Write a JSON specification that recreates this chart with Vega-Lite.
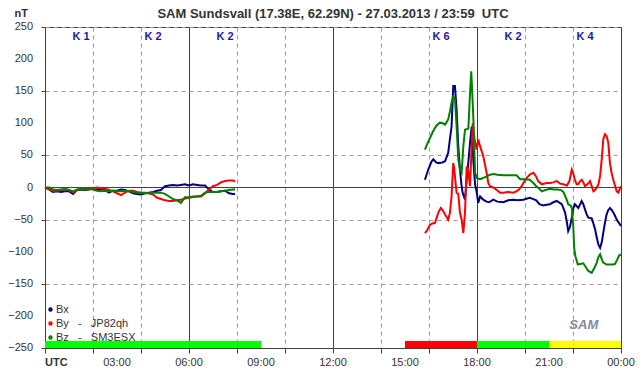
{
  "$schema": "https://vega.github.io/schema/vega-lite/v6.json",
  "width": 576,
  "height": 321,
  "autosize": {"type": "none"},
  "padding": {"left": 45, "top": 27, "right": 21, "bottom": 28},
  "background": "white",
  "config": {
    "font": "Liberation Sans",
    "view": {"stroke": "#404040", "strokeWidth": 1},
    "axis": {"labelFont": "Liberation Sans", "labelColor": "#333333", "labelFontSize": 11, "domainColor": "#404040", "tickColor": "#404040"},
    "legend": {"labelFont": "Liberation Sans"}
  },
  "title": {
    "text": "SAM Sundsvall (17.38E, 62.29N) - 27.03.2013 / 23:59\u00a0\u00a0UTC",
    "anchor": "middle",
    "fontSize": 13,
    "fontWeight": "bold",
    "color": "#333333",
    "font": "Liberation Sans",
    "baseline": "bottom",
    "offset": 0,
    "dy": 27
  },
  "data": {
    "values": [
      {"s":"Bx","g":1,"t":0,"v":0},{"s":"Bx","g":1,"t":0.17,"v":-3},{"s":"Bx","g":1,"t":0.33,"v":-7},{"s":"Bx","g":1,"t":0.5,"v":-6},{"s":"Bx","g":1,"t":0.67,"v":-7},{"s":"Bx","g":1,"t":0.83,"v":-6},{"s":"Bx","g":1,"t":1,"v":-6},{"s":"Bx","g":1,"t":1.17,"v":-10},{"s":"Bx","g":1,"t":1.33,"v":-4},{"s":"Bx","g":1,"t":1.5,"v":-3},
      {"s":"Bx","g":1,"t":1.67,"v":-4},{"s":"Bx","g":1,"t":1.83,"v":-3},{"s":"Bx","g":1,"t":2,"v":-2},{"s":"Bx","g":1,"t":2.17,"v":-3},{"s":"Bx","g":1,"t":2.33,"v":-2},{"s":"Bx","g":1,"t":2.5,"v":-4},{"s":"Bx","g":1,"t":2.67,"v":-8},{"s":"Bx","g":1,"t":2.83,"v":-5},{"s":"Bx","g":1,"t":3,"v":-5},{"s":"Bx","g":1,"t":3.17,"v":-3},
      {"s":"Bx","g":1,"t":3.33,"v":-4},{"s":"Bx","g":1,"t":3.5,"v":-6},{"s":"Bx","g":1,"t":3.67,"v":-9},{"s":"Bx","g":1,"t":3.83,"v":-10},{"s":"Bx","g":1,"t":4,"v":-11},{"s":"Bx","g":1,"t":4.17,"v":-9},{"s":"Bx","g":1,"t":4.33,"v":-8},{"s":"Bx","g":1,"t":4.5,"v":-7},{"s":"Bx","g":1,"t":4.67,"v":-5},{"s":"Bx","g":1,"t":4.83,"v":-4},
      {"s":"Bx","g":1,"t":5,"v":2},{"s":"Bx","g":1,"t":5.17,"v":3},{"s":"Bx","g":1,"t":5.33,"v":4},{"s":"Bx","g":1,"t":5.5,"v":3},{"s":"Bx","g":1,"t":5.67,"v":4},{"s":"Bx","g":1,"t":5.83,"v":5},{"s":"Bx","g":1,"t":6,"v":3},{"s":"Bx","g":1,"t":6.17,"v":5},{"s":"Bx","g":1,"t":6.33,"v":4},{"s":"Bx","g":1,"t":6.5,"v":3},
      {"s":"Bx","g":1,"t":6.67,"v":3},{"s":"Bx","g":1,"t":6.83,"v":-3},{"s":"Bx","g":1,"t":7,"v":-7},{"s":"Bx","g":1,"t":7.17,"v":-7},{"s":"Bx","g":1,"t":7.33,"v":-6},{"s":"Bx","g":1,"t":7.5,"v":-5},{"s":"Bx","g":1,"t":7.67,"v":-9},{"s":"Bx","g":1,"t":7.83,"v":-10},{"s":"Bx","g":1,"t":7.92,"v":-10},

      {"s":"By","g":1,"t":0,"v":0},{"s":"By","g":1,"t":0.17,"v":-2},{"s":"By","g":1,"t":0.33,"v":-5},{"s":"By","g":1,"t":0.5,"v":-5},{"s":"By","g":1,"t":0.67,"v":-4},{"s":"By","g":1,"t":0.83,"v":-3},{"s":"By","g":1,"t":1,"v":-4},{"s":"By","g":1,"t":1.17,"v":-8},{"s":"By","g":1,"t":1.33,"v":-4},{"s":"By","g":1,"t":1.5,"v":-2},
      {"s":"By","g":1,"t":1.67,"v":-3},{"s":"By","g":1,"t":1.83,"v":-2},{"s":"By","g":1,"t":2,"v":-1},{"s":"By","g":1,"t":2.17,"v":0},{"s":"By","g":1,"t":2.33,"v":-1},{"s":"By","g":1,"t":2.5,"v":-2},{"s":"By","g":1,"t":2.67,"v":-4},{"s":"By","g":1,"t":2.83,"v":-6},{"s":"By","g":1,"t":3,"v":-9},{"s":"By","g":1,"t":3.17,"v":-12},
      {"s":"By","g":1,"t":3.33,"v":-8},{"s":"By","g":1,"t":3.5,"v":-5},{"s":"By","g":1,"t":3.67,"v":-5},{"s":"By","g":1,"t":3.83,"v":-7},{"s":"By","g":1,"t":4,"v":-8},{"s":"By","g":1,"t":4.17,"v":-8},{"s":"By","g":1,"t":4.33,"v":-9},{"s":"By","g":1,"t":4.5,"v":-11},{"s":"By","g":1,"t":4.67,"v":-16},{"s":"By","g":1,"t":4.83,"v":-18},
      {"s":"By","g":1,"t":5,"v":-20},{"s":"By","g":1,"t":5.17,"v":-21},{"s":"By","g":1,"t":5.33,"v":-21},{"s":"By","g":1,"t":5.5,"v":-20},{"s":"By","g":1,"t":5.67,"v":-19},{"s":"By","g":1,"t":5.83,"v":-17},{"s":"By","g":1,"t":6,"v":-16},{"s":"By","g":1,"t":6.17,"v":-15},{"s":"By","g":1,"t":6.33,"v":-14},{"s":"By","g":1,"t":6.5,"v":-14},
      {"s":"By","g":1,"t":6.67,"v":-9},{"s":"By","g":1,"t":6.83,"v":-3},{"s":"By","g":1,"t":7,"v":2},{"s":"By","g":1,"t":7.17,"v":4},{"s":"By","g":1,"t":7.33,"v":8},{"s":"By","g":1,"t":7.5,"v":10},{"s":"By","g":1,"t":7.67,"v":11},{"s":"By","g":1,"t":7.83,"v":11},{"s":"By","g":1,"t":7.92,"v":9},

      {"s":"Bz","g":1,"t":0,"v":0},{"s":"Bz","g":1,"t":0.17,"v":0},{"s":"Bz","g":1,"t":0.33,"v":-3},{"s":"Bz","g":1,"t":0.5,"v":-4},{"s":"Bz","g":1,"t":0.67,"v":-3},{"s":"Bz","g":1,"t":0.83,"v":-2},{"s":"Bz","g":1,"t":1,"v":-4},{"s":"Bz","g":1,"t":1.17,"v":-6},{"s":"Bz","g":1,"t":1.33,"v":-3},{"s":"Bz","g":1,"t":1.5,"v":-2},
      {"s":"Bz","g":1,"t":1.67,"v":-2},{"s":"Bz","g":1,"t":1.83,"v":-2},{"s":"Bz","g":1,"t":2,"v":-3},{"s":"Bz","g":1,"t":2.17,"v":-5},{"s":"Bz","g":1,"t":2.33,"v":-6},{"s":"Bz","g":1,"t":2.5,"v":-5},{"s":"Bz","g":1,"t":2.67,"v":-6},{"s":"Bz","g":1,"t":2.83,"v":-5},{"s":"Bz","g":1,"t":3,"v":-6},{"s":"Bz","g":1,"t":3.17,"v":-6},
      {"s":"Bz","g":1,"t":3.33,"v":-5},{"s":"Bz","g":1,"t":3.5,"v":-6},{"s":"Bz","g":1,"t":3.67,"v":-7},{"s":"Bz","g":1,"t":3.83,"v":-8},{"s":"Bz","g":1,"t":4,"v":-8},{"s":"Bz","g":1,"t":4.17,"v":-9},{"s":"Bz","g":1,"t":4.33,"v":-9},{"s":"Bz","g":1,"t":4.5,"v":-8},{"s":"Bz","g":1,"t":4.67,"v":-8},{"s":"Bz","g":1,"t":4.83,"v":-8},
      {"s":"Bz","g":1,"t":5,"v":-10},{"s":"Bz","g":1,"t":5.17,"v":-14},{"s":"Bz","g":1,"t":5.33,"v":-18},{"s":"Bz","g":1,"t":5.5,"v":-20},{"s":"Bz","g":1,"t":5.67,"v":-24},{"s":"Bz","g":1,"t":5.83,"v":-15},{"s":"Bz","g":1,"t":6,"v":-15},{"s":"Bz","g":1,"t":6.17,"v":-14},{"s":"Bz","g":1,"t":6.33,"v":-14},{"s":"Bz","g":1,"t":6.5,"v":-13},
      {"s":"Bz","g":1,"t":6.67,"v":-8},{"s":"Bz","g":1,"t":6.83,"v":-7},{"s":"Bz","g":1,"t":7,"v":-7},{"s":"Bz","g":1,"t":7.17,"v":-7},{"s":"Bz","g":1,"t":7.33,"v":-6},{"s":"Bz","g":1,"t":7.5,"v":-5},{"s":"Bz","g":1,"t":7.67,"v":-4},{"s":"Bz","g":1,"t":7.83,"v":-3},{"s":"Bz","g":1,"t":7.92,"v":-3},

      {"s":"Bx","g":2,"t":15.83,"v":12},{"s":"Bx","g":2,"t":15.97,"v":28},{"s":"Bx","g":2,"t":16.1,"v":40},{"s":"Bx","g":2,"t":16.18,"v":44},{"s":"Bx","g":2,"t":16.3,"v":39},{"s":"Bx","g":2,"t":16.39,"v":38},{"s":"Bx","g":2,"t":16.55,"v":39},{"s":"Bx","g":2,"t":16.67,"v":41},{"s":"Bx","g":2,"t":16.8,"v":54},{"s":"Bx","g":2,"t":16.87,"v":75},
      {"s":"Bx","g":2,"t":16.94,"v":95},{"s":"Bx","g":2,"t":17.01,"v":158},{"s":"Bx","g":2,"t":17.08,"v":158},{"s":"Bx","g":2,"t":17.15,"v":121},{"s":"Bx","g":2,"t":17.22,"v":64},{"s":"Bx","g":2,"t":17.29,"v":28},{"s":"Bx","g":2,"t":17.35,"v":5},{"s":"Bx","g":2,"t":17.4,"v":-8},{"s":"Bx","g":2,"t":17.5,"v":-19},{"s":"Bx","g":2,"t":17.57,"v":12},
      {"s":"Bx","g":2,"t":17.64,"v":40},{"s":"Bx","g":2,"t":17.71,"v":70},{"s":"Bx","g":2,"t":17.78,"v":95},{"s":"Bx","g":2,"t":17.85,"v":40},{"s":"Bx","g":2,"t":17.92,"v":5},{"s":"Bx","g":2,"t":17.99,"v":-8},{"s":"Bx","g":2,"t":18.05,"v":-24},{"s":"Bx","g":2,"t":18.13,"v":-14},{"s":"Bx","g":2,"t":18.26,"v":-19},{"s":"Bx","g":2,"t":18.4,"v":-22},
      {"s":"Bx","g":2,"t":18.5,"v":-23},{"s":"Bx","g":2,"t":18.68,"v":-19},{"s":"Bx","g":2,"t":18.85,"v":-22},{"s":"Bx","g":2,"t":19.1,"v":-23},{"s":"Bx","g":2,"t":19.3,"v":-20},{"s":"Bx","g":2,"t":19.51,"v":-19},{"s":"Bx","g":2,"t":19.7,"v":-20},{"s":"Bx","g":2,"t":19.93,"v":-19},{"s":"Bx","g":2,"t":20.2,"v":-16},{"s":"Bx","g":2,"t":20.35,"v":-18},
      {"s":"Bx","g":2,"t":20.47,"v":-20},{"s":"Bx","g":2,"t":20.6,"v":-26},{"s":"Bx","g":2,"t":20.76,"v":-28},{"s":"Bx","g":2,"t":20.9,"v":-27},{"s":"Bx","g":2,"t":21.04,"v":-26},{"s":"Bx","g":2,"t":21.18,"v":-23},{"s":"Bx","g":2,"t":21.32,"v":-21},{"s":"Bx","g":2,"t":21.45,"v":-24},{"s":"Bx","g":2,"t":21.53,"v":-26},{"s":"Bx","g":2,"t":21.6,"v":-32},
      {"s":"Bx","g":2,"t":21.67,"v":-39},{"s":"Bx","g":2,"t":21.75,"v":-55},{"s":"Bx","g":2,"t":21.8,"v":-68},{"s":"Bx","g":2,"t":21.87,"v":-62},{"s":"Bx","g":2,"t":21.95,"v":-47},{"s":"Bx","g":2,"t":22.01,"v":-33},{"s":"Bx","g":2,"t":22.08,"v":-26},{"s":"Bx","g":2,"t":22.15,"v":-29},{"s":"Bx","g":2,"t":22.22,"v":-32},{"s":"Bx","g":2,"t":22.3,"v":-26},
      {"s":"Bx","g":2,"t":22.36,"v":-21},{"s":"Bx","g":2,"t":22.43,"v":-26},{"s":"Bx","g":2,"t":22.5,"v":-34},{"s":"Bx","g":2,"t":22.57,"v":-42},{"s":"Bx","g":2,"t":22.64,"v":-47},{"s":"Bx","g":2,"t":22.78,"v":-48},{"s":"Bx","g":2,"t":22.85,"v":-56},{"s":"Bx","g":2,"t":22.92,"v":-65},{"s":"Bx","g":2,"t":22.99,"v":-78},{"s":"Bx","g":2,"t":23.06,"v":-89},
      {"s":"Bx","g":2,"t":23.13,"v":-94},{"s":"Bx","g":2,"t":23.2,"v":-85},{"s":"Bx","g":2,"t":23.26,"v":-71},{"s":"Bx","g":2,"t":23.33,"v":-55},{"s":"Bx","g":2,"t":23.4,"v":-42},{"s":"Bx","g":2,"t":23.47,"v":-35},{"s":"Bx","g":2,"t":23.54,"v":-32},{"s":"Bx","g":2,"t":23.61,"v":-35},{"s":"Bx","g":2,"t":23.68,"v":-39},{"s":"Bx","g":2,"t":23.75,"v":-44},
      {"s":"Bx","g":2,"t":23.82,"v":-50},{"s":"Bx","g":2,"t":23.89,"v":-54},{"s":"Bx","g":2,"t":24,"v":-60},

      {"s":"By","g":2,"t":15.83,"v":-71},{"s":"By","g":2,"t":15.9,"v":-68},{"s":"By","g":2,"t":16.04,"v":-58},{"s":"By","g":2,"t":16.15,"v":-56},{"s":"By","g":2,"t":16.25,"v":-55},{"s":"By","g":2,"t":16.39,"v":-39},{"s":"By","g":2,"t":16.49,"v":-32},{"s":"By","g":2,"t":16.58,"v":-36},{"s":"By","g":2,"t":16.67,"v":-42},{"s":"By","g":2,"t":16.8,"v":-50},
      {"s":"By","g":2,"t":16.87,"v":-40},{"s":"By","g":2,"t":16.94,"v":-14},{"s":"By","g":2,"t":17.01,"v":38},{"s":"By","g":2,"t":17.05,"v":30},{"s":"By","g":2,"t":17.1,"v":10},{"s":"By","g":2,"t":17.15,"v":-8},{"s":"By","g":2,"t":17.22,"v":-10},{"s":"By","g":2,"t":17.29,"v":-39},{"s":"By","g":2,"t":17.36,"v":-50},{"s":"By","g":2,"t":17.43,"v":-71},
      {"s":"By","g":2,"t":17.5,"v":-39},{"s":"By","g":2,"t":17.57,"v":33},{"s":"By","g":2,"t":17.64,"v":25},{"s":"By","g":2,"t":17.71,"v":2},{"s":"By","g":2,"t":17.75,"v":40},{"s":"By","g":2,"t":17.82,"v":100},{"s":"By","g":2,"t":17.9,"v":75},{"s":"By","g":2,"t":17.99,"v":59},{"s":"By","g":2,"t":18.05,"v":75},{"s":"By","g":2,"t":18.13,"v":64},
      {"s":"By","g":2,"t":18.26,"v":49},{"s":"By","g":2,"t":18.4,"v":23},{"s":"By","g":2,"t":18.47,"v":7},{"s":"By","g":2,"t":18.54,"v":2},{"s":"By","g":2,"t":18.68,"v":0},{"s":"By","g":2,"t":18.82,"v":-4},{"s":"By","g":2,"t":18.96,"v":-8},{"s":"By","g":2,"t":19.1,"v":-8},{"s":"By","g":2,"t":19.3,"v":-7},{"s":"By","g":2,"t":19.5,"v":-8},
      {"s":"By","g":2,"t":19.65,"v":-6},{"s":"By","g":2,"t":19.75,"v":-3},{"s":"By","g":2,"t":19.86,"v":2},{"s":"By","g":2,"t":19.95,"v":8},{"s":"By","g":2,"t":20.07,"v":15},{"s":"By","g":2,"t":20.2,"v":20},{"s":"By","g":2,"t":20.35,"v":23},{"s":"By","g":2,"t":20.45,"v":18},{"s":"By","g":2,"t":20.55,"v":10},{"s":"By","g":2,"t":20.7,"v":5},
      {"s":"By","g":2,"t":20.9,"v":7},{"s":"By","g":2,"t":21.04,"v":7},{"s":"By","g":2,"t":21.18,"v":8},{"s":"By","g":2,"t":21.32,"v":10},{"s":"By","g":2,"t":21.46,"v":6},{"s":"By","g":2,"t":21.6,"v":5},{"s":"By","g":2,"t":21.75,"v":3},{"s":"By","g":2,"t":21.85,"v":10},{"s":"By","g":2,"t":21.95,"v":28},{"s":"By","g":2,"t":22.01,"v":22},
      {"s":"By","g":2,"t":22.08,"v":12},{"s":"By","g":2,"t":22.15,"v":5},{"s":"By","g":2,"t":22.22,"v":5},{"s":"By","g":2,"t":22.3,"v":10},{"s":"By","g":2,"t":22.36,"v":12},{"s":"By","g":2,"t":22.43,"v":8},{"s":"By","g":2,"t":22.5,"v":2},{"s":"By","g":2,"t":22.6,"v":5},{"s":"By","g":2,"t":22.71,"v":10},{"s":"By","g":2,"t":22.78,"v":2},
      {"s":"By","g":2,"t":22.85,"v":-6},{"s":"By","g":2,"t":22.92,"v":-4},{"s":"By","g":2,"t":22.99,"v":0},{"s":"By","g":2,"t":23.06,"v":5},{"s":"By","g":2,"t":23.13,"v":18},{"s":"By","g":2,"t":23.2,"v":45},{"s":"By","g":2,"t":23.26,"v":75},{"s":"By","g":2,"t":23.33,"v":83},{"s":"By","g":2,"t":23.4,"v":80},{"s":"By","g":2,"t":23.47,"v":70},
      {"s":"By","g":2,"t":23.54,"v":38},{"s":"By","g":2,"t":23.61,"v":22},{"s":"By","g":2,"t":23.68,"v":12},{"s":"By","g":2,"t":23.75,"v":3},{"s":"By","g":2,"t":23.82,"v":-6},{"s":"By","g":2,"t":23.89,"v":-8},{"s":"By","g":2,"t":23.95,"v":-2},{"s":"By","g":2,"t":24,"v":2},

      {"s":"Bz","g":2,"t":15.83,"v":59},{"s":"Bz","g":2,"t":15.95,"v":70},{"s":"Bz","g":2,"t":16.04,"v":77},{"s":"Bz","g":2,"t":16.15,"v":86},{"s":"Bz","g":2,"t":16.25,"v":93},{"s":"Bz","g":2,"t":16.35,"v":98},{"s":"Bz","g":2,"t":16.46,"v":101},{"s":"Bz","g":2,"t":16.57,"v":100},{"s":"Bz","g":2,"t":16.67,"v":98},{"s":"Bz","g":2,"t":16.8,"v":106},
      {"s":"Bz","g":2,"t":16.87,"v":118},{"s":"Bz","g":2,"t":16.94,"v":132},{"s":"Bz","g":2,"t":17.01,"v":142},{"s":"Bz","g":2,"t":17.08,"v":138},{"s":"Bz","g":2,"t":17.15,"v":95},{"s":"Bz","g":2,"t":17.22,"v":44},{"s":"Bz","g":2,"t":17.29,"v":28},{"s":"Bz","g":2,"t":17.36,"v":23},{"s":"Bz","g":2,"t":17.43,"v":64},{"s":"Bz","g":2,"t":17.5,"v":90},
      {"s":"Bz","g":2,"t":17.64,"v":92},{"s":"Bz","g":2,"t":17.71,"v":147},{"s":"Bz","g":2,"t":17.76,"v":181},{"s":"Bz","g":2,"t":17.8,"v":150},{"s":"Bz","g":2,"t":17.85,"v":106},{"s":"Bz","g":2,"t":17.92,"v":23},{"s":"Bz","g":2,"t":17.99,"v":15},{"s":"Bz","g":2,"t":18.13,"v":13},{"s":"Bz","g":2,"t":18.26,"v":15},{"s":"Bz","g":2,"t":18.4,"v":17},
      {"s":"Bz","g":2,"t":18.54,"v":20},{"s":"Bz","g":2,"t":18.7,"v":21},{"s":"Bz","g":2,"t":18.85,"v":20},{"s":"Bz","g":2,"t":19.1,"v":19},{"s":"Bz","g":2,"t":19.3,"v":19},{"s":"Bz","g":2,"t":19.5,"v":19},{"s":"Bz","g":2,"t":19.65,"v":19},{"s":"Bz","g":2,"t":19.8,"v":13},{"s":"Bz","g":2,"t":20,"v":13},{"s":"Bz","g":2,"t":20.2,"v":12},
      {"s":"Bz","g":2,"t":20.35,"v":7},{"s":"Bz","g":2,"t":20.47,"v":2},{"s":"Bz","g":2,"t":20.6,"v":-2},{"s":"Bz","g":2,"t":20.7,"v":-6},{"s":"Bz","g":2,"t":20.85,"v":-4},{"s":"Bz","g":2,"t":21.04,"v":-2},{"s":"Bz","g":2,"t":21.2,"v":-3},{"s":"Bz","g":2,"t":21.35,"v":-3},{"s":"Bz","g":2,"t":21.5,"v":-4},{"s":"Bz","g":2,"t":21.6,"v":-7},
      {"s":"Bz","g":2,"t":21.67,"v":-13},{"s":"Bz","g":2,"t":21.75,"v":-20},{"s":"Bz","g":2,"t":21.8,"v":-26},{"s":"Bz","g":2,"t":21.9,"v":-28},{"s":"Bz","g":2,"t":21.95,"v":-32},{"s":"Bz","g":2,"t":22.01,"v":-60},{"s":"Bz","g":2,"t":22.05,"v":-95},{"s":"Bz","g":2,"t":22.1,"v":-107},{"s":"Bz","g":2,"t":22.2,"v":-120},{"s":"Bz","g":2,"t":22.3,"v":-119},
      {"s":"Bz","g":2,"t":22.43,"v":-118},{"s":"Bz","g":2,"t":22.55,"v":-125},{"s":"Bz","g":2,"t":22.64,"v":-130},{"s":"Bz","g":2,"t":22.78,"v":-133},{"s":"Bz","g":2,"t":22.92,"v":-123},{"s":"Bz","g":2,"t":22.99,"v":-117},{"s":"Bz","g":2,"t":23.06,"v":-108},{"s":"Bz","g":2,"t":23.13,"v":-104},{"s":"Bz","g":2,"t":23.2,"v":-112},{"s":"Bz","g":2,"t":23.26,"v":-117},
      {"s":"Bz","g":2,"t":23.4,"v":-120},{"s":"Bz","g":2,"t":23.54,"v":-120},{"s":"Bz","g":2,"t":23.68,"v":-120},{"s":"Bz","g":2,"t":23.75,"v":-119},{"s":"Bz","g":2,"t":23.85,"v":-112},{"s":"Bz","g":2,"t":23.92,"v":-106},{"s":"Bz","g":2,"t":24,"v":-104}
    ]
  },
  "layer": [
    {
      "data": {"values": [
        {"start": 0, "end": 3, "k": "K 1", "level": "low"},
        {"start": 3, "end": 6, "k": "K 2", "level": "low"},
        {"start": 6, "end": 9, "k": "K 2", "level": "low"},
        {"start": 15, "end": 18, "k": "K 6", "level": "storm"},
        {"start": 18, "end": 21, "k": "K 2", "level": "low"},
        {"start": 21, "end": 24, "k": "K 4", "level": "active"}
      ]},
      "mark": {"type": "rect"},
      "encoding": {
        "x": {
          "field": "start", "type": "quantitative",
          "scale": {"domain": [0, 24], "nice": false},
          "axis": {
            "title": null,
            "values": [0,1,2,3,4,5,6,7,8,9,10,11,12,13,14,15,16,17,18,19,20,21,22,23,24],
            "labels": false,
            "tickSize": 5,
            "grid": true,
            "gridColor": {"condition": {"test": "datum.value % 3 == 0", "value": "#404040"}, "value": "#999999"},
            "gridDash": {"condition": {"test": "datum.value % 3 == 0", "value": []}, "value": [4, 4]}
          }
        },
        "x2": {"field": "end"},
        "y": {
          "datum": -250,
          "type": "quantitative",
          "scale": {"domain": [-250, 250], "nice": false},
          "axis": {
            "title": "nT",
            "titleAngle": 0,
            "titleX": -31,
            "titleY": -14,
            "titleAlign": "left",
            "titleBaseline": "middle",
            "titleFontWeight": "bold",
            "titleFontSize": 11,
            "titleColor": "#333333",
            "titleFont": "Liberation Sans",
            "values": [-250,-200,-150,-100,-50,0,50,100,150,200,250],
            "labels": false,
            "tickSize": 4,
            "grid": true,
            "gridColor": "#999999",
            "gridDash": [4, 4]
          }
        },
        "y2": {"datum": -239},
        "fill": {"field": "level", "type": "nominal", "scale": {"domain": ["low", "storm", "active"], "range": ["#00ff00", "#ff0000", "#ffff00"]}, "legend": null}
      }
    },
    {
      "mark": {"type": "rule", "color": "#404040", "strokeWidth": 1},
      "encoding": {"y": {"datum": 0, "type": "quantitative"}}
    },
    {
      "mark": {"type": "line", "strokeWidth": 2, "interpolate": "linear"},
      "encoding": {
        "x": {"field": "t", "type": "quantitative"},
        "y": {"field": "v", "type": "quantitative"},
        "color": {
          "field": "s", "type": "nominal",
          "scale": {"domain": ["Bx", "By", "Bz"], "range": ["#000080", "#ff0000", "#008000"]},
          "legend": {
            "title": null,
            "orient": "none",
            "legendX": 0,
            "legendY": 277,
            "symbolType": "circle",
            "symbolSize": 6,
            "symbolStrokeWidth": 2,
            "labelFontSize": 11,
            "labelColor": "#333333",
            "labelOffset": 0,
            "rowPadding": 2,
            "padding": 0,
            "labelExpr": "datum.label == 'By' ? 'By\u00a0\u00a0\u00a0-\u00a0\u00a0\u00a0JP82qh' : (datum.label == 'Bz' ? 'Bz\u00a0\u00a0\u00a0-\u00a0\u00a0\u00a0SM3ESX' : datum.label)"
          }
        },
        "detail": {"field": "g", "type": "nominal"}
      }
    },
    {
      "data": {"values": [
        {"mid": 1.5, "k": "K 1"},
        {"mid": 4.5, "k": "K 2"},
        {"mid": 7.5, "k": "K 2"},
        {"mid": 16.5, "k": "K 6"},
        {"mid": 19.5, "k": "K 2"},
        {"mid": 22.5, "k": "K 4"}
      ]},
      "mark": {"type": "text", "color": "#1a1aa0", "fontWeight": "bold", "fontSize": 11, "font": "Liberation Sans", "baseline": "middle"},
      "encoding": {
        "x": {"field": "mid", "type": "quantitative"},
        "y": {"datum": 235, "type": "quantitative"},
        "text": {"field": "k"}
      }
    },
    {
      "data": {"values": [
        {"val": -250}, {"val": -200}, {"val": -150}, {"val": -100}, {"val": -50},
        {"val": 0}, {"val": 50}, {"val": 100}, {"val": 150}, {"val": 200}, {"val": 250}
      ]},
      "mark": {"type": "text", "color": "#333333", "fontSize": 11, "font": "Liberation Sans", "align": "right", "baseline": "middle", "dx": -12},
      "encoding": {
        "x": {"datum": 0, "type": "quantitative"},
        "y": {"field": "val", "type": "quantitative"},
        "text": {"field": "val", "type": "quantitative"}
      }
    },
    {
      "data": {"values": [
        {"h": 3, "lab": "03:00"}, {"h": 6, "lab": "06:00"}, {"h": 9, "lab": "09:00"},
        {"h": 12, "lab": "12:00"}, {"h": 15, "lab": "15:00"}, {"h": 18, "lab": "18:00"},
        {"h": 21, "lab": "21:00"}, {"h": 24, "lab": "00:00"}
      ]},
      "mark": {"type": "text", "color": "#333333", "fontSize": 11, "font": "Liberation Sans", "align": "center", "baseline": "top", "dy": 9},
      "encoding": {
        "x": {"field": "h", "type": "quantitative"},
        "y": {"datum": -250, "type": "quantitative"},
        "text": {"field": "lab"}
      }
    },
    {
      "data": {"values": [{"h": 0, "lab": "UTC"}]},
      "mark": {"type": "text", "color": "#333333", "fontSize": 11, "fontWeight": "bold", "font": "Liberation Sans", "align": "left", "baseline": "top", "dy": 9},
      "encoding": {
        "x": {"field": "h", "type": "quantitative"},
        "y": {"datum": -250, "type": "quantitative"},
        "text": {"field": "lab"}
      }
    },
    {
      "data": {"values": [{"name": "SAM", "t": 22.45, "v": -214}]},
      "mark": {"type": "text", "color": "#8a8a9a", "fontWeight": "bold", "fontStyle": "italic", "fontSize": 13, "font": "Liberation Sans", "baseline": "middle"},
      "encoding": {
        "x": {"field": "t", "type": "quantitative"},
        "y": {"field": "v", "type": "quantitative"},
        "text": {"field": "name"}
      }
    }
  ]
}
